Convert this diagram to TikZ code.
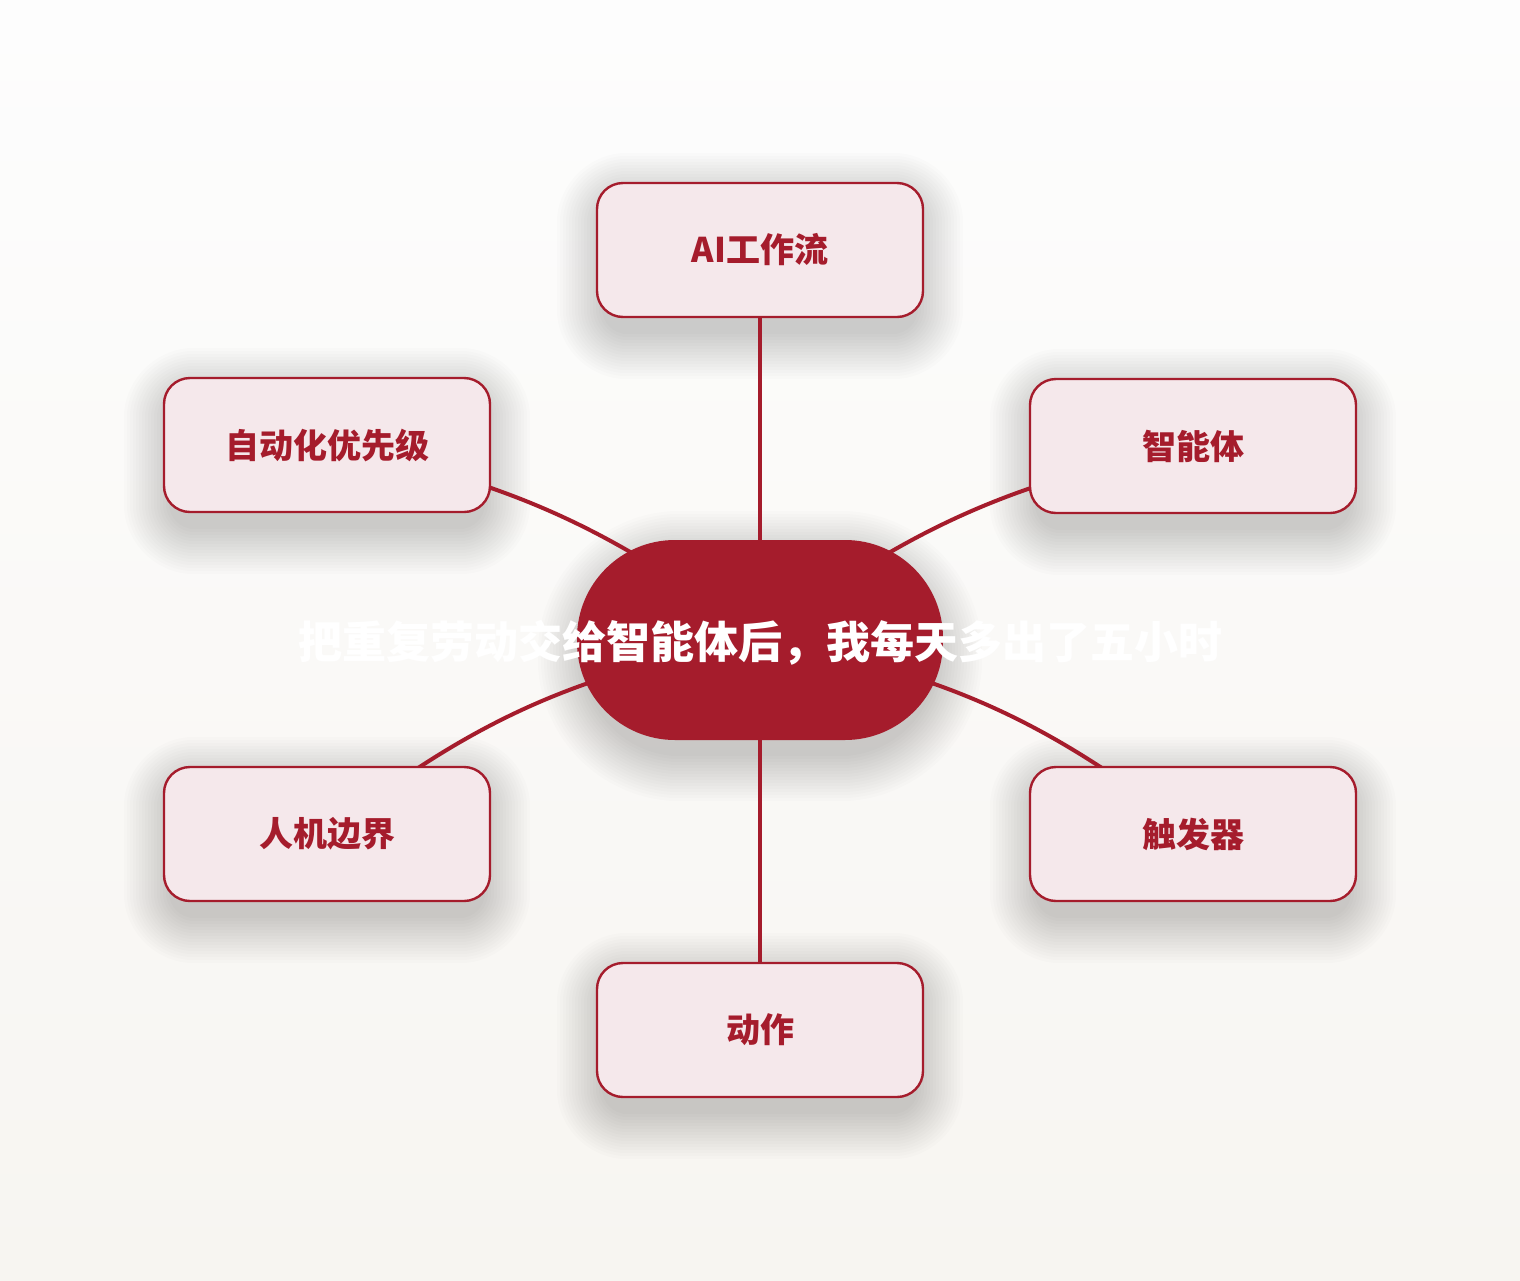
\documentclass[tikz,border=0pt]{standalone}
\usepackage{fontspec}
\setmainfont{Noto Sans CJK SC}
\definecolor{mred}{HTML}{A51C2C}
\definecolor{mfill}{HTML}{F5E8EB}
\definecolor{bgtop}{HTML}{FDFDFD}
\definecolor{bgbot}{HTML}{F7F5F1}
\pgfdeclarelayer{bglayer}
\pgfdeclarelayer{shadowlayer}
\pgfdeclarelayer{linelayer}
\pgfsetlayers{bglayer,shadowlayer,linelayer,main}
\tikzset{
  leaf/.style={draw=mred, line width=2.4pt, fill=mfill, rounded corners=26pt,
    minimum width=326pt, minimum height=134pt, inner sep=0pt,
    text=mred, font=\fontsize{34}{40}\selectfont\bfseries},
  hub/.style={fill=mred, rounded corners=98pt, minimum width=366pt, minimum height=200pt, inner sep=0pt},
  hubtext/.style={text=white, font=\fontsize{44}{52}\selectfont\bfseries, inner sep=0pt},
  link/.style={draw=mred, line width=4pt, line cap=round},
  shadowpiece/.style={fill=black, fill opacity=0.012, draw=none}
}
\newcommand{\softshadow}[2]{%
  \foreach \e in {0,3,...,45}{%
    \fill[shadowpiece, rounded corners=#2+\e]
      ([shift={(-\e+6,\e+16)}]#1.south west) rectangle ([shift={(\e-6,-\e+16)}]#1.north east);
  }%
}
\begin{document}
\begin{tikzpicture}[x=1pt,y=-1pt]
\useasboundingbox (0,0) rectangle (1520,1280);
\node[hub] (c) at (760,640) {};
\node[leaf] (t) at (760,250) {AI工作流};
\node[leaf] (ul) at (327,445) {自动化优先级};
\node[leaf] (ur) at (1193,446) {智能体};
\node[leaf] (ll) at (327,834) {人机边界};
\node[leaf] (lr) at (1193,834) {触发器};
\node[leaf] (b) at (760,1030) {动作};
\begin{pgfonlayer}{bglayer}
\shade[top color=bgtop, bottom color=bgbot] (0,0) rectangle (1520,1280);
\end{pgfonlayer}
\begin{pgfonlayer}{shadowlayer}
\softshadow{t}{26}
\softshadow{ul}{26}
\softshadow{ur}{26}
\softshadow{ll}{26}
\softshadow{lr}{26}
\softshadow{b}{26}
\softshadow{c}{98}
\end{pgfonlayer}
\begin{pgfonlayer}{linelayer}
\draw[link] (t.center) -- (c.center);
\draw[link] (b.center) -- (c.center);
\draw[link] (ul.center) to[bend left=13] (c.center);
\draw[link] (ll.center) to[bend left=14] (c.center);
\draw[link] (ur.center) to[bend right=13] (c.center);
\draw[link] (lr.center) to[bend right=14] (c.center);
\end{pgfonlayer}
\node[hubtext] (ct) at (760,643) {把重复劳动交给智能体后，我每天多出了五小时};
\end{tikzpicture}
\end{document}
